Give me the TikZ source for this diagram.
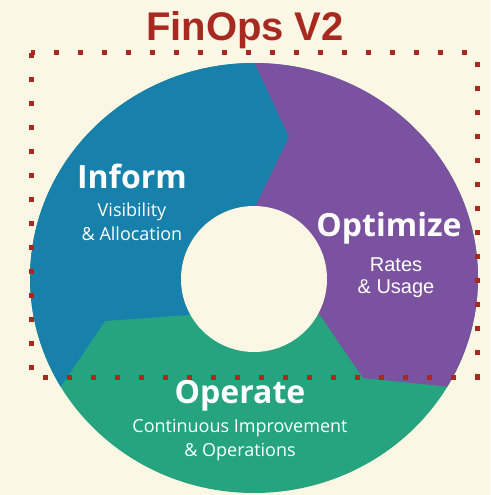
\documentclass[tikz,border=0pt]{standalone}
\usepackage{fontspec}
\setmainfont{Open Sans}
\newfontfamily\arialfont{Liberation Sans}
\usepackage{xcolor}
\usepackage{tikz}
\usetikzlibrary{positioning,calc}
\definecolor{bgcream}{HTML}{FCF6E4}
\definecolor{finred}{HTML}{A8291F}
\definecolor{informblue}{HTML}{1780AB}
\definecolor{optpurple}{HTML}{7A529F}
\definecolor{opgreen}{HTML}{25A47F}

\begin{document}
\begin{tikzpicture}[
    x=1pt, y=-1pt,
    phase/.style={text=white, inner sep=0pt, anchor=base, font=\bfseries\fontsize{32}{34}\selectfont},
    detail/.style={text=white, inner sep=0pt, anchor=base, align=center, font=\fontsize{18}{24}\selectfont},
    sector/.style={draw=none}
]
    \fill[bgcream] (0,0) rectangle (490,495);
    \useasboundingbox (0,0) rectangle (490,495);

    % wheel
    \begin{scope}
        \clip (254,278) ellipse [x radius=224pt, y radius=215pt];
        \fill[opgreen] (0,40) rectangle (490,495);
        \fill[informblue, sector] (244,40) -- (289,137) -- (255,207) -- (254,278) -- (188,315)
            -- (105,321) -- (25,440) -- (0,440) -- (0,40) -- cycle;
        \fill[optpurple, sector] (244,40) -- (289,137) -- (255,207) -- (254,278) -- (320,315)
            -- (363,378) -- (500,392) -- (500,40) -- cycle;
    \end{scope}
    \fill[bgcream] (254,279) circle [radius=73pt];

    % frame
    \draw[finred, line width=5pt, dash pattern=on 5pt off 19pt] (31,53) rectangle (477,377);

    \node[text=finred, inner sep=0pt, anchor=base, font=\arialfont\bfseries\fontsize{40}{40}\selectfont] (title) at (245,41) {FinOps V2};

    % labels (base = last line)
    \node[phase] (inform) at (132,188) {Inform};
    \node[detail] (informsub) at (132,240) {Visibility\\\& Allocation};

    \node[phase] (optimize) at (389,236) {Optimize};
    \node[detail, font=\arialfont\fontsize{20}{22}\selectfont] (optimizesub) at (396,293) {Rates\\\& Usage};

    \node[phase] (operate) at (240,403) {Operate};
    \node[detail] (operatesub) at (240,456) {Continuous Improvement\\\& Operations};
\end{tikzpicture}
\end{document}
